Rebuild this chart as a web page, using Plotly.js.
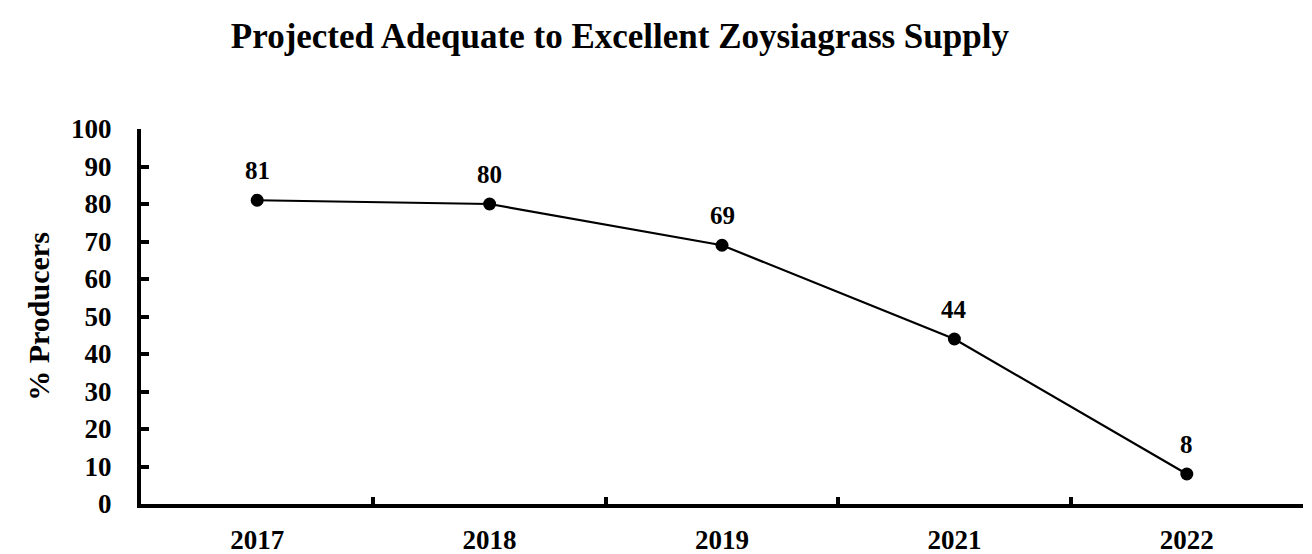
<!DOCTYPE html>
<html>
<head>
<meta charset="utf-8">
<script src="https://cdn.plot.ly/plotly-3.0.1.min.js"></script>
<style>html,body{margin:0;padding:0;background:#fff;}#chart{width:1312px;height:554px;}</style>
</head>
<body>
<div id="chart"></div>
<script>
const years = ["2017", "2018", "2019", "2021", "2022"];
const producers = [81, 80, 69, 44, 8];
const yTicks = [0, 10, 20, 30, 40, 50, 60, 70, 80, 90, 100];

const font = "'Liberation Serif', 'Times New Roman', serif";

const trace = {
  x: years,
  y: producers,
  type: "scatter",
  mode: "lines+markers",
  line: {color: "#000", width: 2.2},
  marker: {color: "#000", size: 13},
  hoverinfo: "skip"
};

const annotations = years.map((yr, i) => ({
  x: i, y: producers[i], xref: "x", yref: "y",
  text: "<b>" + producers[i] + "</b>",
  showarrow: false, yanchor: "bottom", yshift: 14,
  font: {family: font, size: 25, color: "#000"}
}));

const layout = {
  width: 1312, height: 554,
  margin: {l: 141, r: 9, t: 129, b: 50},
  paper_bgcolor: "#fff", plot_bgcolor: "#fff",
  showlegend: false,
  title: {
    text: "<b>Projected Adequate to Excellent Zoysiagrass Supply</b>",
    font: {family: font, size: 35, color: "#000"},
    x: 0.4725, xanchor: "center", y: 0.935, yanchor: "middle"
  },
  xaxis: {
    type: "category",
    range: [-0.5, 4.5],
    showline: true, linecolor: "#000", linewidth: 4,
    ticks: "inside", tickson: "boundaries", ticklen: 7, tickwidth: 4, tickcolor: "#000",
    showgrid: false, zeroline: false,
    tickfont: {family: font, size: 27, color: "#000"},
    ticklabelstandoff: 9,
    tickprefix: "<b>", ticksuffix: "</b>"
  },
  yaxis: {
    range: [0, 100],
    tickvals: yTicks,
    ticktext: yTicks.map(v => "<b>" + v + "</b>"),
    showline: true, linecolor: "#000", linewidth: 4,
    ticks: "inside", ticklen: 8, tickwidth: 4, tickcolor: "#000",
    showgrid: false, zeroline: false,
    tickfont: {family: font, size: 27, color: "#000"},
    ticklabelstandoff: 20,
    title: {text: "<b>% Producers</b>", font: {family: font, size: 30, color: "#000"}, standoff: 14}
  },
  annotations: annotations
};

Plotly.newPlot("chart", [trace], layout, {displayModeBar: false, staticPlot: true});
</script>
</body>
</html>
